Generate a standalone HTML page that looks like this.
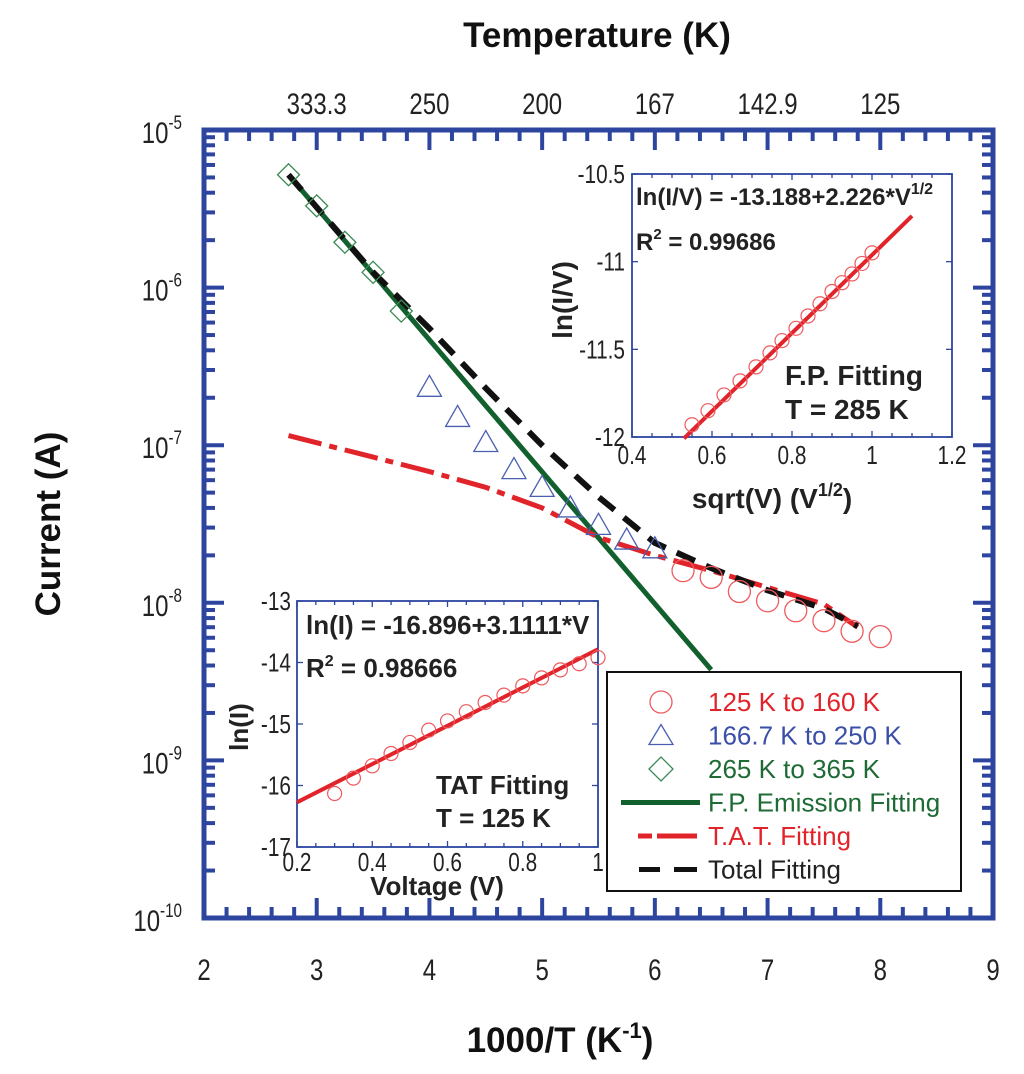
<!DOCTYPE html>
<html><head><meta charset="utf-8"><style>
body{margin:0;background:#fff}
svg{display:block;font-family:"Liberation Sans",Arial,sans-serif}
</style></head><body>
<svg id="c" width="1024" height="1074" viewBox="0 0 1024 1074">
<rect width="1024" height="1074" fill="#fff"/>
<text x="597" y="47" font-size="35" font-weight="bold" text-anchor="middle" fill="#111">Temperature (K)</text>
<text x="560" y="1052" font-size="35" font-weight="bold" text-anchor="middle" fill="#111">1000/T (K<tspan font-size="22" dy="-14">-1</tspan><tspan dy="14">)</tspan></text>
<text transform="translate(60,524) rotate(-90)" font-size="35" font-weight="bold" text-anchor="middle" fill="#111">Current (A)</text>
<g id="main"></g>
<g id="ins1"></g>
<g id="ins2"></g>
<g id="leg"></g>
</svg>
<script>
// ---- main chart data ----
const diamondX=[2.75,3.0,3.25,3.5,3.75];
const diamondY=[5.2e-6,3.3e-6,1.94e-6,1.25e-6,7.1e-7];
const triX=[4.0,4.25,4.5,4.75,5.0,5.25,5.5,5.75,6.0];
const triY=[2.33e-7,1.5e-7,1.04e-7,7.0e-8,5.4e-8,4.0e-8,3.1e-8,2.5e-8,2.2e-8];
const circX=[6.25,6.5,6.75,7.0,7.25,7.5,7.75,8.0];
const circY=[1.6e-8,1.45e-8,1.18e-8,1.03e-8,8.9e-9,7.7e-9,6.6e-9,6.1e-9];
const fpX=[2.75,6.5];
const fpY=[5.2e-6,3.76e-9];
const tatX=[2.75,3.5,4.0,4.5,5.0,5.5,6.0,6.5,7.0,7.5,7.8];
const tatY=[1.15e-7,8.4e-8,6.8e-8,5.4e-8,4.0e-8,2.6e-8,2.0e-8,1.6e-8,1.25e-8,9.8e-9,7.0e-9];
const totX=[2.75,3.5,4.0,4.5,5.0,5.5,6.0,6.5,7.0,7.5,7.8];
const totY=[5.2e-6,1.25e-6,5.5e-7,2.3e-7,1.0e-7,4.7e-8,2.4e-8,1.66e-8,1.2e-8,9.2e-9,7.1e-9];
const xTicks=[2,3,4,5,6,7,8,9];
const topLabels=["333.3","250","200","167","142.9","125"];
const topPos=[3,4,5,6,7,8];
const decades=[-5,-6,-7,-8,-9,-10];
// ---- inset data ----
const fpSx=[0.55,0.59,0.63,0.67,0.71,0.745,0.775,0.81,0.84,0.87,0.9,0.925,0.95,0.975,1.0];
const fpSy=[-11.93,-11.85,-11.76,-11.68,-11.6,-11.52,-11.45,-11.38,-11.31,-11.24,-11.17,-11.12,-11.07,-11.01,-10.95];
const fpFitX=[0.53,1.1];
const tatVx=[0.3,0.35,0.4,0.45,0.5,0.55,0.6,0.65,0.7,0.75,0.8,0.85,0.9,0.95,1.0];
const tatVy=[-16.13,-15.88,-15.68,-15.48,-15.3,-15.1,-14.95,-14.8,-14.65,-14.53,-14.38,-14.25,-14.12,-14.02,-13.92];
const tatFitX=[0.2,1.0];

const NS="http://www.w3.org/2000/svg";
function mk(p,t,a,txt){const e=document.createElementNS(NS,t);for(const k in a)e.setAttribute(k,a[k]);if(txt!==undefined)e.textContent=txt;p.appendChild(e);return e;}
const L=204,R=993,T=130,B=918;
const X=v=>L+(v-2)/7*(R-L);
const Y=v=>T+(-5-Math.log10(v))/5*(B-T);
const BL="#2e45a0";
const SX=0.8;
const main=document.getElementById('main');
const nar=mk(main,'g',{transform:`scale(${SX},1)`});
let e;
// ticks
for(let i=0;i<=35;i++){const v=2+i*0.2;const maj=i%5==0;const len=maj?20:11;const x=X(v);
 e=mk(main,'line',{x1:x,y1:B,x2:x,y2:B-len,stroke:BL,'stroke-width':4});
 
 e=mk(main,'line',{x1:x,y1:T,x2:x,y2:T+len,stroke:BL,'stroke-width':4});
 }
for(let d=-10;d<-5;d++){for(let m=1;m<10;m++){const y=Y(m*Math.pow(10,d));const len=m==1?20:11;
 e=mk(main,'line',{x1:L,y1:y,x2:L+len,y2:y,stroke:BL,'stroke-width':4});
 
 e=mk(main,'line',{x1:R,y1:y,x2:R-len,y2:y,stroke:BL,'stroke-width':4});
 }}
e=mk(main,'rect',{x:L,y:T,width:R-L,height:B-T,fill:'none',stroke:BL,'stroke-width':5});

xTicks.forEach(v=>{e=mk(nar,'text',{x:X(v)/SX,y:980,'font-size':30,'text-anchor':'middle',fill:'#222'},String(v));
 });
topLabels.forEach((s,i)=>{e=mk(nar,'text',{x:X(topPos[i])/SX,y:114,'font-size':30,'text-anchor':'middle',fill:'#222'},s);
 });
decades.forEach(d=>{const y=Y(Math.pow(10,d));e=mk(nar,'text',{x:182/SX,y:y+13,'font-size':30,'text-anchor':'end',fill:'#222'});
 
 mk(e,'tspan',{},'10');mk(e,'tspan',{dy:-14,'font-size':19},String(d));});
function path(xs,ys){return xs.map((x,i)=>(i?'L':'M')+X(x).toFixed(1)+' '+Y(ys[i]).toFixed(1)).join(' ');}
const cp=mk(main,'clipPath',{id:'cl'});mk(cp,'path',{d:`M0 0H1024V672H606V1074H0Z`});
e=mk(main,'path',{d:path(fpX,fpY),fill:'none',stroke:'#12602e','stroke-width':5,'clip-path':'url(#cl)'});

e=mk(main,'path',{d:path(tatX,tatY),fill:'none',stroke:'#e0242a','stroke-width':5,'stroke-dasharray':'34 8 8 8'});

e=mk(main,'path',{d:path(totX,totY),fill:'none',stroke:'#111','stroke-width':6,'stroke-dasharray':'20 12'});

diamondX.forEach((x,i)=>{const cx=X(x),cy=Y(diamondY[i]);e=mk(main,'path',{d:`M${cx-11} ${cy}L${cx} ${cy-11}L${cx+11} ${cy}L${cx} ${cy+11}Z`,fill:'none',stroke:'#3c8a55','stroke-width':1.3});
 });
triX.forEach((x,i)=>{const cx=X(x),cy=Y(triY[i]);e=mk(main,'path',{d:`M${cx-12} ${cy+9}L${cx} ${cy-12}L${cx+12} ${cy+9}Z`,fill:'none',stroke:'#4a5fb0','stroke-width':1.3});
 });
circX.forEach((x,i)=>{e=mk(main,'circle',{cx:X(x),cy:Y(circY[i]),r:11,fill:'none',stroke:'#ee5a5e','stroke-width':1.3});
 });

function inset(g,x0,x1,y0,y1,xmin,xmax,ymin,ymax){
 const ix=v=>x0+(v-xmin)/(xmax-xmin)*(x1-x0), iy=v=>y1-(v-ymin)/(ymax-ymin)*(y1-y0);
 mk(g,'rect',{x:x0,y:y0,width:x1-x0,height:y1-y0,fill:'#fff',stroke:'#2e45a0','stroke-width':1.8});
 return [ix,iy];
}
// FP inset
const g1=document.getElementById('ins1');
const n1=mk(g1,'g',{transform:`scale(${SX},1)`});
const A=[632,952,174,437];
const [ax,ay]=inset(g1,...A,0.4,1.2,-12,-10.5);
for(let i=0;i<=16;i++){const v=0.4+i*0.05;const x=ax(v);const maj=i%4==0;
 mk(g1,'line',{x1:x,y1:A[3],x2:x,y2:A[3]-(maj?6:4),stroke:BL,'stroke-width':1.3});mk(g1,'line',{x1:x,y1:A[2],x2:x,y2:A[2]+(maj?6:4),stroke:BL,'stroke-width':1.3});}
[-12,-11.5,-11,-10.5].forEach(v=>{const y=ay(v);mk(g1,'line',{x1:A[0],y1:y,x2:A[0]+6,y2:y,stroke:BL,'stroke-width':1.3});mk(g1,'line',{x1:A[1],y1:y,x2:A[1]-6,y2:y,stroke:BL,'stroke-width':1.3});
 e=mk(n1,'text',{x:625/SX,y:y+9,'font-size':26,'text-anchor':'end',fill:'#222'},String(v));});
[0.4,0.6,0.8,1,1.2].forEach(v=>{e=mk(n1,'text',{x:ax(v)/SX,y:464,'font-size':26,'text-anchor':'middle',fill:'#222'},String(v));});
e=mk(g1,'line',{x1:ax(fpFitX[0]),y1:ay(-13.188+2.226*fpFitX[0]),x2:ax(fpFitX[1]),y2:ay(-13.188+2.226*fpFitX[1]),stroke:'#e0242a','stroke-width':4});

fpSx.forEach((x,i)=>{e=mk(g1,'circle',{cx:ax(x),cy:ay(fpSy[i]),r:7,fill:'none',stroke:'#ee5a5e','stroke-width':1.2});});
e=mk(g1,'text',{x:636,y:205,'font-size':24,'font-weight':'bold',fill:'#222'});
mk(e,'tspan',{},'ln(I/V) = -13.188+2.226*V');mk(e,'tspan',{dy:-11,'font-size':16},'1/2');
e=mk(g1,'text',{x:636,y:250,'font-size':24,'font-weight':'bold',fill:'#222'});
mk(e,'tspan',{},'R');mk(e,'tspan',{dy:-11,'font-size':15},'2');mk(e,'tspan',{dy:11},' = 0.99686');
e=mk(g1,'text',{x:785,y:385,'font-size':28,'font-weight':'bold',fill:'#222'},'F.P. Fitting');
e=mk(g1,'text',{x:785,y:419,'font-size':28,'font-weight':'bold',fill:'#222'},'T = 285 K');
e=mk(g1,'text',{x:772,y:508,'font-size':28,'font-weight':'bold','text-anchor':'middle',fill:'#222'});
mk(e,'tspan',{},'sqrt(V) (V');mk(e,'tspan',{dy:-12,'font-size':18},'1/2');mk(e,'tspan',{dy:12},')');
e=mk(g1,'text',{transform:'translate(572,300) rotate(-90)','font-size':28,'font-weight':'bold','text-anchor':'middle',fill:'#222'},'ln(I/V)');

// TAT inset
const g2=document.getElementById('ins2');
const n2=mk(g2,'g',{transform:`scale(${SX},1)`});
const Bb=[297,598,601,847];
const [bx,by]=inset(g2,...Bb,0.2,1.0,-17,-13);
for(let i=0;i<=16;i++){const v=0.2+i*0.05;const x=bx(v);const maj=i%4==0;
 mk(g2,'line',{x1:x,y1:Bb[3],x2:x,y2:Bb[3]-(maj?6:4),stroke:BL,'stroke-width':1.3});mk(g2,'line',{x1:x,y1:Bb[2],x2:x,y2:Bb[2]+(maj?6:4),stroke:BL,'stroke-width':1.3});}
[-17,-16,-15,-14,-13].forEach(v=>{const y=by(v);mk(g2,'line',{x1:Bb[0],y1:y,x2:Bb[0]+6,y2:y,stroke:BL,'stroke-width':1.3});mk(g2,'line',{x1:Bb[1],y1:y,x2:Bb[1]-6,y2:y,stroke:BL,'stroke-width':1.3});
 e=mk(n2,'text',{x:291/SX,y:y+9,'font-size':26,'text-anchor':'end',fill:'#222'},String(v));});
[0.2,0.4,0.6,0.8,1].forEach(v=>{e=mk(n2,'text',{x:bx(v)/SX,y:871,'font-size':26,'text-anchor':'middle',fill:'#222'},String(v));});
e=mk(g2,'line',{x1:bx(tatFitX[0]),y1:by(-16.896+3.1111*tatFitX[0]),x2:bx(tatFitX[1]),y2:by(-16.896+3.1111*tatFitX[1]),stroke:'#e0242a','stroke-width':4});

tatVx.forEach((x,i)=>{e=mk(g2,'circle',{cx:bx(x),cy:by(tatVy[i]),r:7,fill:'none',stroke:'#ee5a5e','stroke-width':1.2});});
e=mk(g2,'text',{x:306,y:634,'font-size':26,'font-weight':'bold',fill:'#222'},'ln(I) = -16.896+3.1111*V');
e=mk(g2,'text',{x:306,y:677,'font-size':26,'font-weight':'bold',fill:'#222'});
mk(e,'tspan',{},'R');mk(e,'tspan',{dy:-11,'font-size':16},'2');mk(e,'tspan',{dy:11},' = 0.98666');
e=mk(g2,'text',{x:436,y:794,'font-size':26,'font-weight':'bold',fill:'#222'},'TAT Fitting');
e=mk(g2,'text',{x:436,y:827,'font-size':26,'font-weight':'bold',fill:'#222'},'T = 125 K');
e=mk(g2,'text',{x:437,y:895,'font-size':26,'font-weight':'bold','text-anchor':'middle',fill:'#222'},'Voltage (V)');
e=mk(g2,'text',{transform:'translate(248,727) rotate(-90)','font-size':26,'font-weight':'bold','text-anchor':'middle',fill:'#222'},'ln(I)');

// legend
const lg=document.getElementById('leg');
mk(lg,'rect',{x:607,y:672,width:354,height:219,fill:'#fff',stroke:'#111','stroke-width':2});
const items=[['circle','125 K to 160 K','#e0242a'],['tri','166.7 K to 250 K','#3a4fa8'],['dia','265 K to 365 K','#1e6b35'],['solid','F.P. Emission Fitting','#1e6b35'],['dashdot','T.A.T. Fitting','#e0242a'],['dash','Total Fitting','#222']];
items.forEach((it,i)=>{const y=702+i*33.5;const cx=661;
 if(it[0]=='circle')mk(lg,'circle',{cx:cx,cy:y,r:11,fill:'none',stroke:'#ee5a5e','stroke-width':1.3});
 if(it[0]=='tri')mk(lg,'path',{d:`M${cx-12} ${y+9}L${cx} ${y-11}L${cx+12} ${y+9}Z`,fill:'none',stroke:'#4a5fb0','stroke-width':1.3});
 if(it[0]=='dia')mk(lg,'path',{d:`M${cx-12} ${y}L${cx} ${y-12}L${cx+12} ${y}L${cx} ${y+12}Z`,fill:'none',stroke:'#3c8a55','stroke-width':1.3});
 if(it[0]=='solid')mk(lg,'line',{x1:621,y1:y,x2:700,y2:y,stroke:'#12602e','stroke-width':5});
 if(it[0]=='dashdot'){mk(lg,'line',{x1:638,y1:y,x2:652,y2:y,stroke:'#e0242a','stroke-width':5});mk(lg,'line',{x1:657,y1:y,x2:697,y2:y,stroke:'#e0242a','stroke-width':5});}
 if(it[0]=='dash'){mk(lg,'line',{x1:639,y1:y,x2:660,y2:y,stroke:'#111','stroke-width':5});mk(lg,'line',{x1:674,y1:y,x2:697,y2:y,stroke:'#111','stroke-width':5});}
 e=mk(lg,'text',{x:708,y:y+9,'font-size':26,fill:it[2]},it[1]);
 });
</script>
</body></html>
